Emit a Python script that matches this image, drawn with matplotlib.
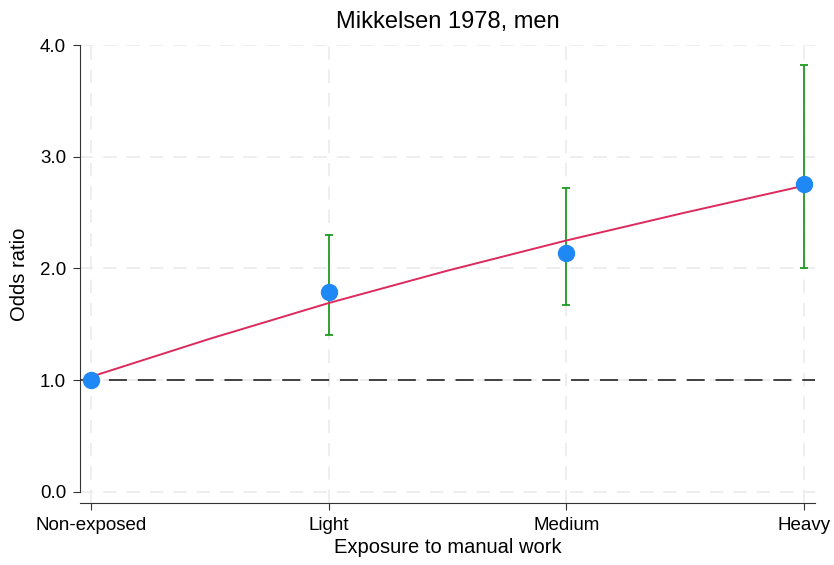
import matplotlib.pyplot as plt

plt.rcParams['font.family'] = ['Liberation Sans', 'DejaVu Sans']

# exposure categories and estimates
categories = ['Non-exposed', 'Light', 'Medium', 'Heavy']
odds_ratio = [1.0, 1.79, 2.14, 2.76]
ci_low = [1.0, 1.40, 1.67, 2.00]
ci_high = [1.0, 2.30, 2.72, 3.82]

# fitted curve
curve_x = [0, 0.5, 1, 1.5, 2, 2.5, 3]
curve_y = [1.03, 1.37, 1.69, 1.98, 2.25, 2.50, 2.74]

yticks = [0.0, 1.0, 2.0, 3.0, 4.0]

fig = plt.figure(figsize=(8.34, 5.65), dpi=100)
ax = fig.add_axes([80 / 834, 62 / 565, 735 / 834, 458 / 565])

x = list(range(len(categories)))

# grid
for yv in yticks:
    ax.axhline(yv, color='#ebebeb', lw=1.2, dashes=(8, 6), zorder=0)
for xv in x:
    ax.axvline(xv, color='#ebebeb', lw=1.2, dashes=(8, 6), zorder=0)

# reference line
ax.axhline(1.0, color='#333333', lw=1.3, dashes=(10, 6), zorder=1)

# confidence intervals (skip reference category)
ax.errorbar(x[1:], odds_ratio[1:],
            yerr=[[o - l for o, l in zip(odds_ratio[1:], ci_low[1:])],
                  [h - o for o, h in zip(odds_ratio[1:], ci_high[1:])]],
            fmt='none', ecolor='#1e9a1e', elinewidth=1.3, capsize=3, capthick=1.3, zorder=2)

ax.plot(curve_x, curve_y, color='#dc2a5e', lw=1.4, zorder=3)
ax.plot(x, odds_ratio, 'o', color='#1e88f5', ms=11.5, zorder=4)

ax.set_xlim(-0.046, 3.046)
ax.set_ylim(-0.1, 4.0)
ax.set_xticks(x)
ax.set_xticklabels(categories, fontsize=13.5)
ax.set_yticks(yticks)
ax.set_yticklabels(['%.1f' % v for v in yticks], fontsize=13.5)

for s in ['top', 'right']:
    ax.spines[s].set_visible(False)
ax.spines['left'].set_bounds(0, 4)
ax.spines['left'].set_color('#333333')
ax.spines['bottom'].set_color('#333333')
ax.tick_params(direction='out', length=5, color='#333333', pad=5)

ax.set_xlabel('Exposure to manual work', fontsize=14.5, labelpad=3)
ax.set_ylabel('Odds ratio', fontsize=14.5, labelpad=8)
ax.set_title('Mikkelsen 1978, men', fontsize=17, pad=12)

fig.savefig('out.png', dpi=100)
